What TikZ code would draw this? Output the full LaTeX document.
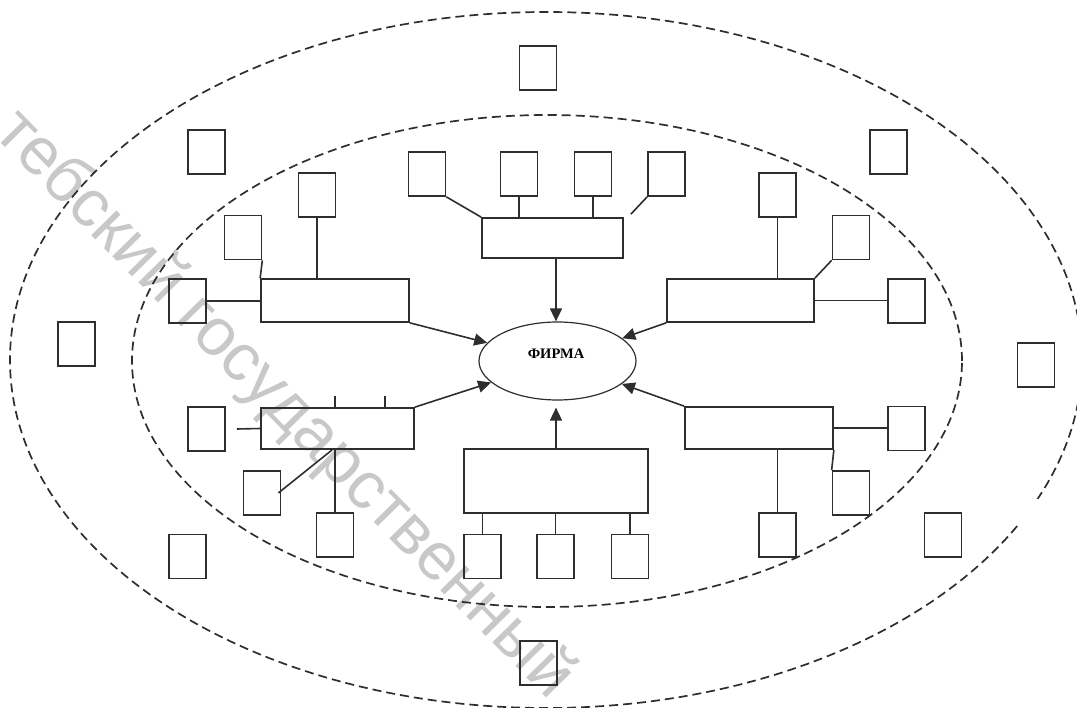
\documentclass[tikz,border=0pt]{standalone}
\usepackage{fontspec}
\setmainfont{Liberation Serif}
\newfontfamily\wmfont{Liberation Sans}
\usetikzlibrary{arrows.meta,calc,shapes.geometric}
\definecolor{ln}{HTML}{2E2E2E}
\definecolor{wm}{HTML}{C8C8C8}
\tikzset{
  sbox/.style={draw=ln, line width=1.7pt, minimum width=37pt, minimum height=44pt, inner sep=0pt},
  rbox/.style={draw=ln, line width=1.7pt, inner sep=0pt},
  conn/.style={draw=ln, line width=1.6pt},
  arr/.style={draw=ln, line width=1.6pt, -{Triangle[length=13pt,width=12pt]}},
  zone/.style={draw=ln, line width=1.7pt, dash pattern=on 9pt off 5pt},
}
\begin{document}
\begin{tikzpicture}[x=1pt,y=-1pt]
\useasboundingbox (0,0) rectangle (1077,708);
% watermark
\node[wm, font=\wmfont\fontsize{67}{67}\selectfont, rotate=-45.5, anchor=base west, inner sep=0pt] (wmk) at (-8,134) {тебский государственный};
% zones
\draw[zone] (546,360) ellipse [x radius=536pt, y radius=348pt];
\fill[white] (1015,499) rectangle (1046,524);
\draw[zone] (547,361) ellipse [x radius=415pt, y radius=246pt];
% firm
\node[draw=ln, line width=1.2pt, ellipse, minimum width=157pt, minimum height=78pt, inner sep=0pt] (F) at (557.5,361) {};
\node[font=\bfseries\fontsize{14.5}{15}\selectfont, inner sep=0pt] (Ft) at (556,354) {ФИРМА};
% outer boxes
\node[sbox] (o1) at (538,68) {};
\node[sbox] (o2) at (206.5,152) {};
\node[sbox] (o3) at (888.5,152) {};
\node[sbox] (o4) at (76.5,344) {};
\node[sbox] (o5) at (1036,365) {};
\node[sbox] (o6) at (187.5,556.5) {};
\node[sbox] (o7) at (943,535) {};
\node[sbox] (o8) at (538.5,663) {};
% top group
\node[rbox, minimum width=141pt, minimum height=40pt] (T) at (552.5,238) {};
\node[sbox] (t1) at (427,174) {};
\node[sbox] (t2) at (519,174) {};
\node[sbox] (t3) at (593,174) {};
\node[sbox] (t4) at (666.5,174) {};
\draw[conn] (t1.south east) -- (T.north west);
\draw[conn] (t2.south) -- (t2.south |- T.north);
\draw[conn] (t3.south) -- (t3.south |- T.north);
\draw[conn] (t4.south west) -- ($(T.north east)+(7,-3)$);
\draw[arr] ($(T.south)+(3.5,0)$) -- ($(F.north)+(-1.5,0)$);
% top-left group
\node[rbox, minimum width=148pt, minimum height=43pt] (L) at (335,300.5) {};
\node[sbox] (l1) at (317,195) {};
\node[sbox] (l2) at (243,237.5) {};
\node[sbox] (l3) at (187.5,301) {};
\draw[conn] (l1.south) -- (l1.south |- L.north);
\draw[conn] (l2.south east) -- (L.north west);
\draw[conn] (l3.east) -- (l3.east -| L.west);
\draw[arr] (L.south east) -- (F);
% top-right group
\node[rbox, minimum width=147pt, minimum height=43pt] (R) at (740.5,300.5) {};
\node[sbox] (r1) at (777.5,195) {};
\node[sbox] (r2) at (851,237.5) {};
\node[sbox] (r3) at (906.5,301) {};
\draw[conn] (r1.south) -- (r1.south |- R.north);
\draw[conn] (r2.south west) -- (R.north east);
\draw[conn] (R.east) -- (R.east -| r3.west);
\draw[arr] (R.south west) -- (F);
% bottom-left group
\node[rbox, minimum width=153pt, minimum height=41pt] (BL) at (337.5,428.5) {};
\node[sbox] (bl1) at (206.5,429) {};
\node[sbox] (bl2) at (262,493) {};
\node[sbox] (bl3) at (335,535) {};
\draw[conn] ($(bl1.east)+(11,0)$) -- (BL.west);
\draw[conn] ($(BL.north west)+(75,0)$) -- ++(0,-11);
\draw[conn] ($(BL.north west)+(125,0)$) -- ++(0,-11);
\draw[conn] ($(bl2.east)+(-3,0)$) -- ($(BL.south west)+(72,0)$);
\draw[conn] (bl3.north) -- (bl3.north |- BL.south);
\draw[arr] (BL.north east) -- (F);
% bottom group
\node[rbox, minimum width=184pt, minimum height=64pt] (B) at (556,481) {};
\node[sbox] (b1) at (482.5,556.5) {};
\node[sbox] (b2) at (555.5,556.5) {};
\node[sbox] (b3) at (630,556.5) {};
\draw[conn] (b1.north) -- (b1.north |- B.south);
\draw[conn] (b2.north) -- (b2.north |- B.south);
\draw[conn] (b3.north) -- (b3.north |- B.south);
\draw[arr] (B.north) -- ($(F.south)+(-1.5,7)$);
% bottom-right group
\node[rbox, minimum width=148pt, minimum height=42pt] (BR) at (759,428) {};
\node[sbox] (br1) at (906.5,428.5) {};
\node[sbox] (br2) at (851,493) {};
\node[sbox] (br3) at (777.5,535) {};
\draw[conn] (BR.east) -- (BR.east -| br1.west);
\draw[conn] (BR.south east) -- (br2.north west);
\draw[conn] (br3.north) -- (br3.north |- BR.south);
\draw[arr] (BR.north west) -- (F);
\end{tikzpicture}
\end{document}
